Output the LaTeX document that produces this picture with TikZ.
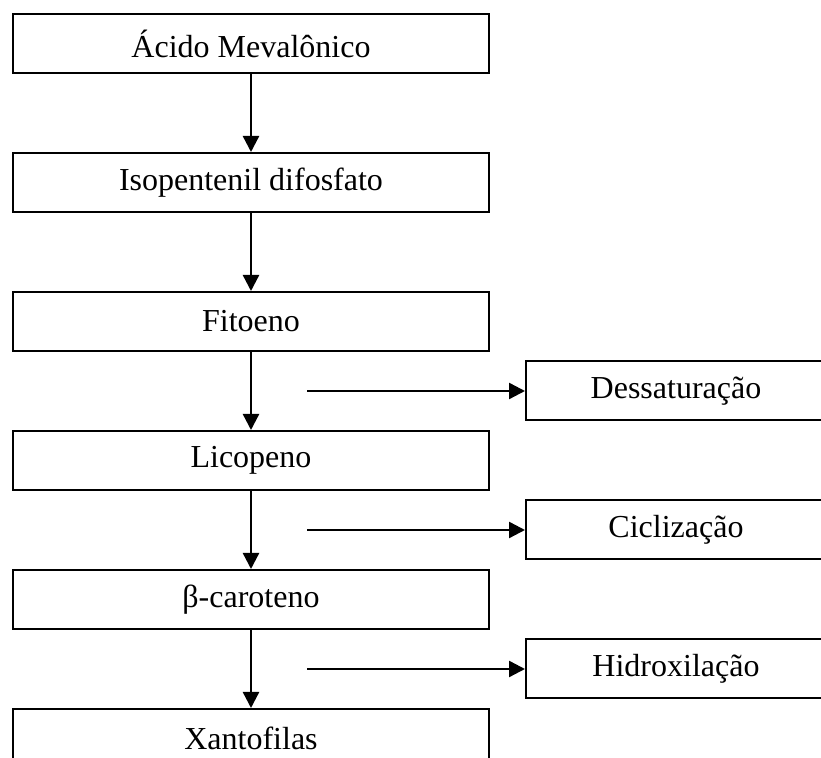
\documentclass[tikz,border=0pt]{standalone}
\usepackage{fontspec}
\setmainfont{Liberation Serif}
\usetikzlibrary{positioning, arrows.meta}

\begin{document}
\begin{tikzpicture}[x=0.5pt, y=-0.5pt,
    passo/.style={draw, line width=1pt, minimum width=238pt, minimum height=29.5pt, inner sep=0pt, font=\fontsize{16}{19}\selectfont},
    etapa/.style={passo, minimum width=150pt},
    seta/.style={line width=1.2pt, -{Triangle[width=8pt, length=8pt]}},
    node distance=39pt]

    \clip (0,0) rectangle (821,758);

    % via principal
    \node[passo] (acido) at (251,43.5) {Ácido Mevalônico};
    \node[passo, below=of acido] (ipp) {Isopentenil difosfato};
    \node[passo, below=of ipp] (fitoeno) {Fitoeno};
    \node[passo, below=of fitoeno] (licopeno) {Licopeno};
    \node[passo, below=of licopeno] (caroteno) {β-caroteno};
    \node[passo, below=of caroteno] (xanto) {Xantofilas};

    \draw[seta] (acido) -- (ipp);
    \draw[seta] (ipp) -- (fitoeno);
    \draw[seta] (fitoeno) -- (licopeno);
    \draw[seta] (licopeno) -- (caroteno);
    \draw[seta] (caroteno) -- (xanto);

    % etapas laterais
    \path (fitoeno.south) -- coordinate[pos=0.5] (m1) (licopeno.north);
    \path (licopeno.south) -- coordinate[pos=0.5] (m2) (caroteno.north);
    \path (caroteno.south) -- coordinate[pos=0.5] (m3) (xanto.north);

    \node[etapa, anchor=west] (dess) at ([xshift=137pt]m1) {Dessaturação};
    \node[etapa, anchor=west] (cicl) at ([xshift=137pt]m2) {Ciclização};
    \node[etapa, anchor=west] (hidr) at ([xshift=137pt]m3) {Hidroxilação};

    \coordinate (d1) at ([xshift=28pt]m1);
    \coordinate (d2) at ([xshift=28pt]m2);
    \coordinate (d3) at ([xshift=28pt]m3);

    \draw[seta] (d1) -- (dess.west);
    \draw[seta] (d2) -- (cicl.west);
    \draw[seta] (d3) -- (hidr.west);
\end{tikzpicture}
\end{document}
